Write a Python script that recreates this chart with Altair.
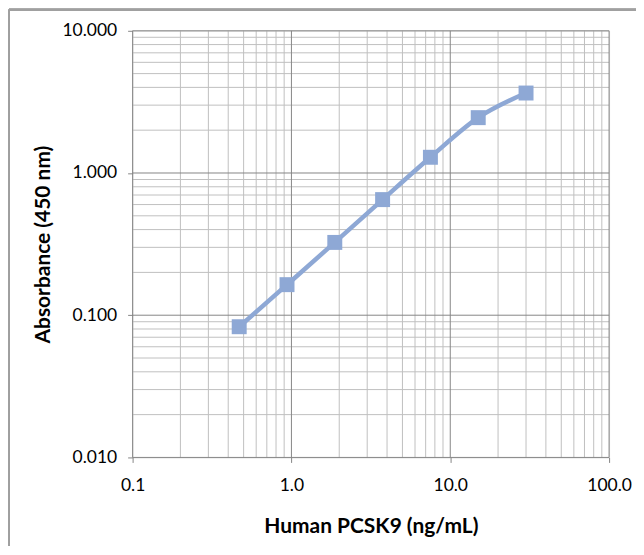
import altair as alt
import pandas as pd

# Data
conc = [0.469, 0.938, 1.875, 3.75, 7.5, 15.0, 30.0]
absorb = [0.083, 0.164, 0.325, 0.650, 1.29, 2.45, 3.65]

major_x = [0.1, 1.0, 10.0, 100.0]
major_y = [0.01, 0.1, 1.0, 10.0]
minor_x = [m * d for d in [0.1, 1.0, 10.0] for m in range(2, 10)]
minor_y = [m * d for d in [0.01, 0.1, 1.0] for m in range(2, 10)]

x_title = "Human PCSK9 (ng/mL)"
y_title = "Absorbance (450 nm)"

FONT = "Lato"
SERIES = "#8EA8D5"

xs = alt.Scale(type="log", domain=[0.1, 100], nice=False)
ys = alt.Scale(type="log", domain=[0.01, 10], nice=False)

df = pd.DataFrame({"x": conc, "y": absorb})
mx = pd.DataFrame({"x": minor_x})
my = pd.DataFrame({"y": minor_y})
Mx = pd.DataFrame({"x": major_x})
My = pd.DataFrame({"y": major_y})

xaxis = alt.Axis(values=major_x, format=".1f", grid=False, domain=False,
                 ticks=True, tickSize=5, tickColor="#868686",
                 labelFont=FONT, labelFontSize=17.5, labelColor="#000000",
                 labelPadding=14, labelFlush=False,
                 title=x_title, titleFont=FONT, titleFontSize=21,
                 titleFontWeight="bold", titleColor="#000000",
                 titleX=239, titleY=69, titleBaseline="middle", titleAlign="center")
yaxis = alt.Axis(values=major_y, format=".3f", grid=False, domain=False,
                 ticks=True, tickSize=5, tickColor="#868686",
                 labelFont=FONT, labelFontSize=17.5, labelColor="#000000",
                 labelPadding=11, labelFlush=False,
                 title=y_title, titleFont=FONT, titleFontSize=21,
                 titleFontWeight="bold", titleColor="#000000",
                 titleX=-89, titleY=214, titleBaseline="middle", titleAlign="center",
                 titleAngle=270)

X = alt.X("x:Q", scale=xs, axis=xaxis)
Y = alt.Y("y:Q", scale=ys, axis=yaxis)

minor_v = alt.Chart(mx).mark_rule(color="#c0c0c0", strokeWidth=1).encode(x=X)
minor_h = alt.Chart(my).mark_rule(color="#c0c0c0", strokeWidth=1).encode(y=Y)
major_v = alt.Chart(Mx).mark_rule(color="#868686", strokeWidth=1).encode(x=X)
major_h = alt.Chart(My).mark_rule(color="#868686", strokeWidth=1).encode(y=Y)

line = alt.Chart(df).mark_line(color=SERIES, strokeWidth=4.5, interpolate="monotone").encode(
    x=X, y=Y)
pts = alt.Chart(df).mark_point(shape="square", filled=True, size=225, opacity=1,
                               color=SERIES).encode(x=X, y=Y)

border_top = alt.Chart(df).mark_rule(color="#a0a0a0", strokeWidth=2).encode(
    x=alt.value(-124), x2=alt.value(520), y=alt.value(-21))
border_left = alt.Chart(df).mark_rule(color="#a0a0a0", strokeWidth=2).encode(
    x=alt.value(-124), y=alt.value(-21), y2=alt.value(530))

chart = alt.layer(minor_v, minor_h, major_v, major_h, line, pts, border_top, border_left).properties(
    width=478, height=428,
    autosize=alt.AutoSizeParams(type="none"),
    padding={"left": 125, "top": 22, "right": 27, "bottom": 88},
).configure_view(stroke=None).configure(background="white")

chart.save("out.html", embed_options={"renderer": "svg", "actions": False})
